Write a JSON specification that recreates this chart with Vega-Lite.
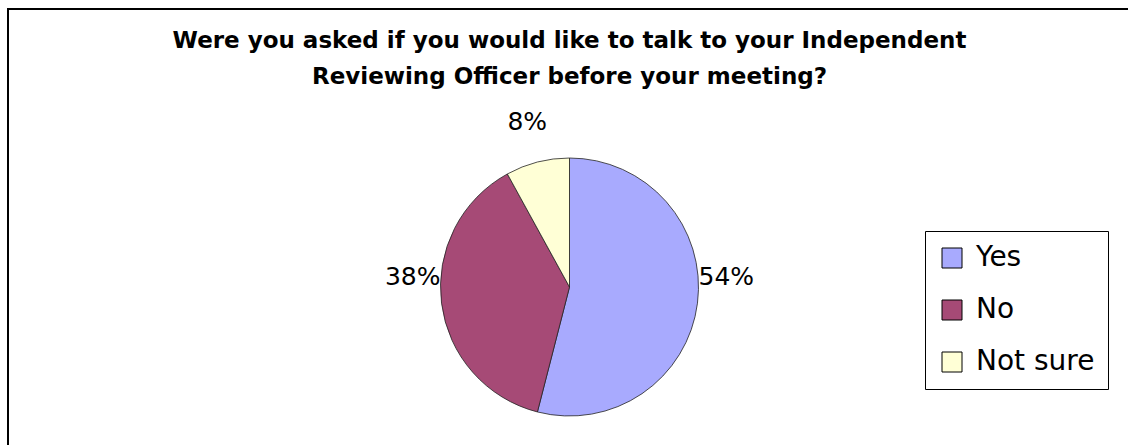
{
  "$schema": "https://vega.github.io/schema/vega-lite/v6.json",
  "autosize": {"type": "none"},
  "padding": {"left": 8, "top": 9, "right": 0, "bottom": 0},
  "width": 1123,
  "height": 556,
  "background": "white",
  "view": {"stroke": "black", "strokeWidth": 2},
  "title": {
    "text": ["Were you asked if you would like to talk to your Independent", "Reviewing Officer before your meeting?"],
    "font": "DejaVu Sans",
    "fontWeight": "bold",
    "fontSize": 23,
    "lineHeight": 36,
    "color": "black",
    "anchor": "middle",
    "baseline": "top",
    "offset": -80
  },
  "data": {"values": [
    {"answer": "Yes", "pct": 54, "label": "54%", "ord": 1},
    {"answer": "No", "pct": 38, "label": "38%", "ord": 2},
    {"answer": "Not sure", "pct": 8, "label": "8%", "ord": 3}
  ]},
  "encoding": {
    "theta": {"field": "pct", "type": "quantitative", "stack": true},
    "order": {"field": "ord", "type": "quantitative"}
  },
  "layer": [
    {
      "mark": {"type": "arc", "outerRadius": 129, "stroke": "#222222", "strokeWidth": 0.8},
      "encoding": {
        "color": {
          "field": "answer", "type": "nominal",
          "sort": ["Yes", "No", "Not sure"],
          "scale": {"domain": ["Yes", "No", "Not sure"], "range": ["#A8AAFE", "#A64A76", "#FFFFD6"]},
          "legend": {
            "orient": "none",
            "legendX": 917,
            "legendY": 222,
            "title": null,
            "symbolType": "square",
            "symbolSize": 400,
            "symbolStrokeColor": "black",
            "symbolStrokeWidth": 1,
            "labelFont": "DejaVu Sans",
            "labelFontSize": 28,
            "labelColor": "black",
            "labelOffset": 10,
            "rowPadding": 24,
            "padding": 13,
            "strokeColor": "black",
            "fillColor": "white"
          }
        }
      }
    },
    {
      "mark": {"type": "text", "radius": 158, "dy": -30, "font": "DejaVu Sans", "fontSize": 25, "color": "black"},
      "encoding": {"text": {"condition": {"test": "datum.answer === 'Not sure'", "value": ""}, "field": "label"}}
    },
    {
      "mark": {"type": "text", "radius": 170, "font": "DejaVu Sans", "fontSize": 25, "color": "black"},
      "encoding": {"text": {"condition": {"test": "datum.answer !== 'Not sure'", "value": ""}, "field": "label"}}
    }
  ]
}
